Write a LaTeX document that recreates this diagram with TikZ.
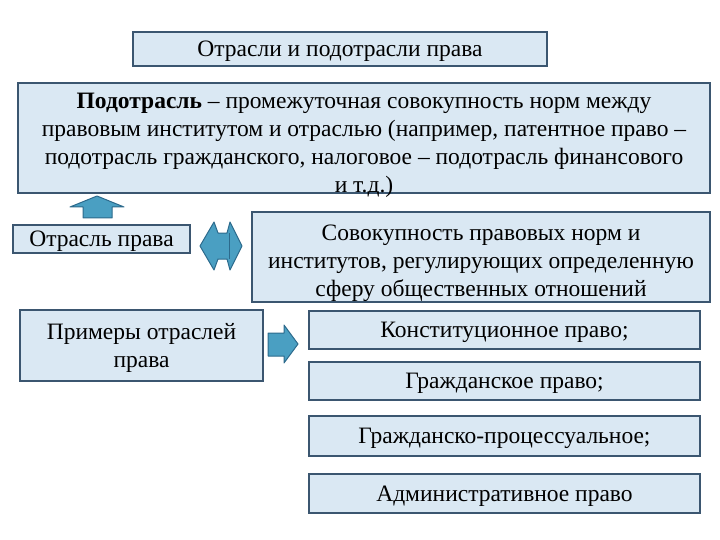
\documentclass[tikz,border=0pt]{standalone}
\usepackage{fontspec}
\setmainfont{Liberation Serif}
\definecolor{boxfill}{HTML}{DAE8F3}
\definecolor{boxline}{HTML}{3B5670}
\definecolor{arrfill}{HTML}{4A9FC2}
\definecolor{arrline}{HTML}{2C6A8C}
\begin{document}
\begin{tikzpicture}[x=1pt,y=-1pt,
    panel/.style={draw=boxline,line width=1.6pt,fill=boxfill,inner sep=1pt,
        text depth=0pt,align=center,font=\fontsize{23.5}{28}\selectfont},
    blockarrow/.style={draw=arrline,line width=1pt,fill=arrfill,line join=round}]
    \useasboundingbox (0,0) rectangle (720,540);
    \node[panel,minimum width=414pt,minimum height=34pt] (title) at (340,49)
        {Отрасли и подотрасли права};
    \node[panel,minimum width=692pt,minimum height=110pt,text height=108.5pt] (sub) at (364,138)
        {\textbf{Подотрасль} – промежуточная совокупность норм между\\
         правовым институтом и отраслью (например, патентное право –\\
         подотрасль гражданского, налоговое – подотрасль финансового\\
         и т.д.)};
    \node[panel,minimum width=177pt,minimum height=28pt] (branch) at (101.5,239)
        {Отрасль права};
    \node[panel,minimum width=458pt,minimum height=90pt,text height=79.5pt] (def) at (481,257)
        {Совокупность правовых норм и\\
         институтов, регулирующих определенную\\
         сферу общественных отношений};
    \node[panel,minimum width=243pt,minimum height=71pt] (examples) at (141.5,345.5)
        {Примеры отраслей\\права};
    \node[panel,minimum width=391pt,minimum height=38pt] (constlaw) at (504.5,330)
        {Конституционное право;};
    \node[panel,minimum width=391pt,minimum height=38pt] (civillaw) at (504.5,381)
        {Гражданское право;};
    \node[panel,minimum width=391pt,minimum height=40pt] (civproc) at (504.5,436)
        {Гражданско-процессуальное;};
    \node[panel,minimum width=391pt,minimum height=39pt] (admlaw) at (504.5,493.5)
        {Административное право};
    % up arrow
    \draw[blockarrow] (83,218) -- (83,207) -- (70,207) -- (97,196) -- (124,207)
        -- (112,207) -- (112,218) -- cycle;
    % double arrow
    \draw[blockarrow] (200,246) -- (214,222) -- (218,233) -- (227,233) -- (230,222)
        -- (242,246) -- (230,270) -- (227,259) -- (218,259) -- (214,270) -- cycle;
    \draw[arrline,line width=1pt] (229,233) -- (229,259);
    % right arrow
    \draw[blockarrow] (268,333) -- (284,333) -- (284,325) -- (298,344) -- (284,363)
        -- (284,356) -- (268,356) -- cycle;
\end{tikzpicture}
\end{document}
